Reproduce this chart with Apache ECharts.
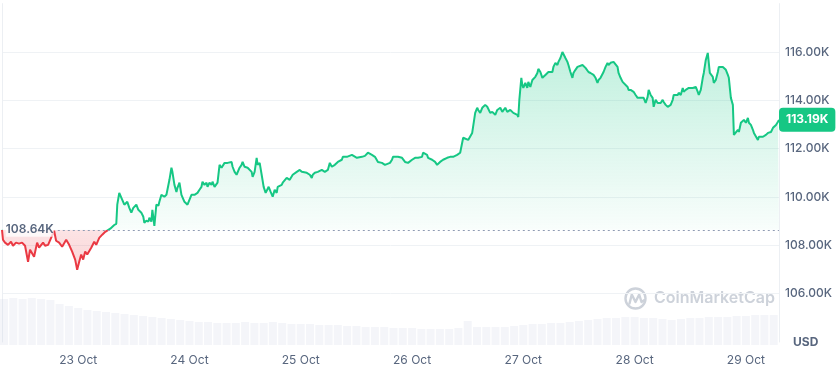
<!DOCTYPE html>
<html><head><meta charset="utf-8">
<script src="https://cdn.jsdelivr.net/npm/echarts@6/dist/echarts.min.js"></script>
<style>html,body{margin:0;padding:0;background:#fff}#c{width:840px;height:366px}</style>
</head><body><div id="c"></div>
<script>
// reference (open) and last price, USD
const refPrice = 108640;
const lastPrice = 113190;
// time of each price point: hours since 22 Oct 00:00
const hours = [
7.57,7.78,8.22,8.86,9.51,9.95,10.59,11.24,11.89,12.54,13.19,13.62,14.05,14.49,15.14,15.57,16.00,16.43,16.86,17.51,
18.16,18.81,19.24,19.89,20.54,21.41,22.05,22.70,23.35,23.78,24.22,24.65,25.08,25.51,25.95,26.81,27.46,27.89,28.54,29.19,
29.84,30.27,30.92,
31.35,31.78,32.22,32.43,32.86,33.51,33.95,34.59,35.03,35.46,
35.89,36.54,36.97,37.62,38.05,38.27,38.70,39.14,39.35,39.78,
40.00,40.43,40.86,41.30,41.51,41.95,42.59,43.03,43.68,44.11,
44.32,44.76,45.19,45.41,45.84,46.27,46.49,46.92,47.57,48.00,
48.43,48.65,49.08,49.73,50.16,50.59,50.81,51.24,51.68,51.89,
52.32,52.76,52.97,53.41,54.05,54.49,54.92,55.14,55.57,56.00,
56.22,56.65,57.08,57.30,57.73,58.16,58.38,58.81,59.24,59.46,
59.89,60.32,60.54,60.97,61.41,61.62,62.05,62.49,62.70,63.14,
63.57,64.00,64.43,64.65,65.08,65.51,65.95,66.16,66.38,66.81,
67.03,67.46,67.89,68.11,68.54,68.97,69.19,69.62,70.05,70.27,
70.70,71.14,71.78,72.22,72.43,73.30,73.51,73.95,74.38,74.59,
75.03,75.68,76.54,77.19,77.84,78.27,78.70,78.92,79.35,79.78,
80.00,80.43,80.86,81.08,81.51,81.95,82.16,83.03,83.24,84.11,
84.32,85.19,85.84,86.27,86.49,86.92,87.35,87.57,88.00,88.43,
88.65,89.08,89.51,89.73,90.16,90.59,91.24,91.68,91.89,92.32,
92.97,93.84,94.49,95.14,96.00,96.65,97.30,98.16,98.38,99.24,
99.46,99.89,100.32,100.97,101.41,101.62,102.05,102.70,103.57,104.22,
104.86,105.73,106.38,106.81,107.03,107.46,108.11,108.97,109.19,109.62,
110.05,110.27,110.70,111.14,111.35,111.78,112.22,112.43,112.86,113.30,
113.51,113.95,114.38,114.59,115.03,115.46,115.68,116.11,116.54,116.76,
117.19,117.84,118.70,118.92,119.14,119.57,119.78,120.00,120.43,120.86,
121.08,121.51,121.95,122.16,122.59,123.03,123.24,123.68,124.11,124.32,
124.76,125.19,125.41,125.84,126.27,126.49,126.92,127.35,127.57,128.00,
128.43,128.65,129.08,129.51,129.73,130.16,130.59,130.81,131.24,131.68,
131.89,132.76,132.97,133.41,133.84,134.05,134.49,134.92,135.14,135.57,
136.00,136.22,136.65,137.08,137.30,137.73,138.16,138.38,138.81,139.46,
139.89,140.32,140.54,140.97,141.41,141.62,142.49,142.70,143.14,143.57,
143.78,144.22,144.65,144.86,145.30,145.73,145.95,146.38,146.81,147.03,
147.46,147.89,148.11,148.54,148.97,149.19,149.62,150.05,150.27,150.70,
151.14,151.35,151.78,152.22,152.43,152.86,153.30,153.51,153.95,154.38,
154.59,155.03,155.68,156.54,157.19,157.62,157.84,158.27,158.70,158.92,
159.35,159.78,160.00,160.22,160.43,160.86,161.08,161.51,161.95,162.16,
162.59,163.03,163.24,163.68,164.11,164.32,164.76,165.19,165.41,165.84,
166.27,166.49,166.92,167.35,167.57,168.00,168.43,168.65,169.08,169.51,
169.73,170.16,170.59,170.81,171.24,171.68,171.89,172.32,172.76,172.97,
173.41,173.84,174.05,174.49,174.92,175.14
];
// price in thousands of USD
const prices = [
108.64,108.23,108.11,108.02,108.15,107.98,108.11,108.07,108.11,107.98,107.32,107.82,107.90,107.53,108.11,107.90,107.82,108.11,107.98,108.02,
108.31,108.60,108.19,108.11,107.94,108.23,108.02,107.74,107.41,106.99,107.32,107.62,107.41,107.74,107.62,107.90,108.15,108.02,108.31,108.44,
108.56,108.48,108.69,
108.77,108.84,108.89,109.68,110.17,109.88,109.68,109.80,109.55,109.35,
109.55,109.68,109.47,109.35,109.18,108.93,109.02,108.98,109.14,108.98,
109.47,108.80,109.68,109.64,109.80,110.09,110.01,110.09,110.71,111.21,
111.04,110.50,110.21,110.38,110.59,110.09,110.01,109.80,109.68,109.76,
110.09,110.01,110.09,110.17,110.30,110.42,110.63,110.50,110.59,110.42,
110.59,110.50,110.63,110.42,110.59,111.33,111.21,111.25,111.41,111.33,
111.41,111.33,111.45,111.25,111.04,110.92,111.00,111.21,111.33,111.45,
111.25,111.25,111.21,111.21,111.04,110.83,111.04,111.62,111.33,111.41,
110.92,110.42,110.17,110.09,110.42,110.21,110.01,110.09,110.30,110.17,
110.42,110.38,110.50,110.59,110.63,110.79,110.83,110.71,110.79,110.92,
111.00,111.04,111.12,111.04,111.12,111.00,111.04,110.92,110.79,110.92,
111.00,111.04,111.12,111.04,111.12,111.41,111.25,111.21,111.33,111.41,
111.45,111.45,111.54,111.66,111.62,111.66,111.74,111.74,111.66,111.62,
111.66,111.66,111.70,111.74,111.83,111.79,111.74,111.66,111.66,111.62,
111.45,111.41,111.41,111.33,111.33,111.41,111.41,111.54,111.66,111.66,
111.66,111.62,111.45,111.41,111.54,111.62,111.62,111.66,111.83,111.74,
111.62,111.62,111.54,111.45,111.33,111.33,111.45,111.54,111.62,111.66,
111.66,111.74,111.83,111.79,112.45,112.49,112.36,112.65,112.69,113.48,
113.69,113.60,113.48,113.69,113.73,113.81,113.73,113.81,113.48,113.52,
113.60,113.40,113.60,113.52,113.69,113.52,113.60,113.69,113.52,113.60,
113.60,113.48,113.40,113.31,114.02,114.93,114.64,114.51,114.72,114.51,
114.76,114.55,114.84,114.76,114.97,115.13,115.30,115.17,114.93,114.97,
115.05,114.97,115.17,115.13,115.17,115.38,115.55,115.46,115.59,115.75,
116.00,115.96,115.75,115.59,115.46,115.17,114.93,115.13,115.26,115.38,
115.46,115.46,115.38,115.34,115.26,115.17,115.13,115.05,115.05,114.93,
114.72,114.84,114.93,114.97,115.17,115.38,115.55,115.46,115.55,115.59,
115.55,115.38,115.13,114.93,114.76,114.76,114.55,114.43,114.43,114.51,
114.35,114.22,114.10,114.14,114.10,114.02,114.10,113.89,114.14,114.43,
114.22,114.10,113.73,114.02,113.89,113.93,113.89,114.02,113.93,113.81,
113.73,113.69,113.81,114.02,114.22,114.14,114.22,114.31,114.22,114.51,
114.35,114.43,114.51,114.51,114.55,114.35,114.22,114.43,114.93,115.13,
115.67,115.96,115.55,115.13,115.17,114.97,114.72,114.84,115.17,115.38,
115.46,115.38,115.46,115.26,115.05,114.93,114.10,113.81,112.57,112.65,
112.78,112.69,113.07,113.11,113.19,113.07,113.27,113.07,112.98,112.78,
112.65,112.57,112.36,112.49,112.57,112.49,112.57,112.57,112.65,112.57,
112.69,112.86,112.90,112.98,113.11,113.19
];
// volume bars (relative), one per 2 hours starting 22 Oct 08:00
const volHours = [8,10,12,14,16,18,20,22,24,26,28,30,32,34,36,38,40,42,44,46,48,50,52,54,56,58,60,62,64,66,68,70,72,74,76,78,80,82,84,86,88,90,92,94,96,98,100,102,104,106,108,110,112,114,116,118,120,122,124,126,128,130,132,134,136,138,140,142,144,146,148,150,152,154,156,158,160,162,164,166,168,170,172,174];
const volume = [
46,47,46,47,46,45,41,39,37,35,
34,33,32,31,30,29,28,27,26,25,
24,23,23,22,22,22,23,22,22,23,
22,21,21,21,20,20,20,19,19,18,
18,18,17,17,17,16,16,16,16,17,
24,18,18,18,18,19,20,21,21,22,
22,23,24,25,26,27,27,28,28,27,
27,26,25,26,27,27,28,28,28,29,
29,30,30,30
];
const dayTicks = [24,48,72,96,120,144,168];
const dayLabels = ['23 Oct','24 Oct','25 Oct','26 Oct','27 Oct','28 Oct','29 Oct'];

const n = Math.min(hours.length, prices.length);
const lineData = [];
for (let i = 0; i < n; i++) lineData.push([hours[i], prices[i] * 1000]);
const volData = volHours.map((h, i) => [h, volume[i]]);
const xMin = hours[0], xMax = hours[n - 1];
const pMax = Math.max(...prices.slice(0, n)) * 1000, pMin = Math.min(...prices.slice(0, n)) * 1000;
const f = (pMax - refPrice) / (pMax - pMin);

const GREEN = '#16c784', RED = '#ea3943', GRAY = '#58667e';
const chart = echarts.init(document.getElementById('c'), null, {renderer: 'canvas'});
chart.setOption({
  animation: false,
  textStyle: {fontFamily: 'Inter'},
  grid: [
    {left: 2, right: 61, top: 3.6, bottom: 23.6},
    {left: 2, right: 61, top: 290, bottom: 21}
  ],
  xAxis: [
    {type: 'value', gridIndex: 0, min: xMin, max: xMax,
     axisLine: {show: false}, axisTick: {show: false}, splitLine: {show: false},
     axisLabel: {customValues: dayTicks, color: GRAY, fontSize: 12, margin: 12,
       formatter: v => { const k = dayTicks.indexOf(Math.round(v)); return k >= 0 ? dayLabels[k] : ''; }}},
    {type: 'value', gridIndex: 1, min: xMin, max: xMax, show: false}
  ],
  yAxis: [
    {type: 'value', gridIndex: 0, position: 'right', min: 104000, max: 118000, interval: 2000,
     axisLine: {show: true, lineStyle: {color: '#eceff3'}}, axisTick: {show: false},
     splitLine: {show: true, showMinLine: false, showMaxLine: false, lineStyle: {color: '#eff2f5'}},
     axisLabel: {showMaxLabel: false, showMinLabel: true, margin: 6, color: GRAY, fontSize: 12, fontWeight: 500,
       formatter: v => v === 104000 ? '{u|USD}' : (v / 1000).toFixed(2) + 'K',
       rich: {u: {fontWeight: 700, color: GRAY, fontSize: 12, padding: [0, 0, 0, 8]}}}},
    {type: 'value', gridIndex: 0, position: 'left', min: 104000, max: 118000,
     axisLine: {show: true, lineStyle: {color: '#eceff3'}}, axisTick: {show: false},
     axisLabel: {show: false}, splitLine: {show: false}},
    {type: 'value', gridIndex: 1, min: 0, max: 55, show: false}
  ],
  visualMap: {type: 'piecewise', show: false, seriesIndex: 1, dimension: 1,
    pieces: [{gt: 90000, lte: refPrice, color: RED}, {gt: refPrice, lte: 130000, color: GREEN}],
    outOfRange: {color: GREEN}},
  series: [
    {type: 'bar', xAxisIndex: 1, yAxisIndex: 2, data: volData, barWidth: 8, silent: true, z: 1,
     itemStyle: {color: 'rgba(207,214,228,0.24)'}},
    {type: 'line', xAxisIndex: 0, yAxisIndex: 0, data: lineData, showSymbol: false, z: 3,
     lineStyle: {width: 2},
     areaStyle: {origin: refPrice, color: new echarts.graphic.LinearGradient(0, 0, 0, 1, [
       {offset: 0, color: 'rgba(22,199,132,0.38)'},
       {offset: f, color: 'rgba(22,199,132,0.04)'},
       {offset: f, color: 'rgba(234,57,67,0.20)'},
       {offset: 1, color: 'rgba(234,57,67,0.30)'}])},
     markLine: {symbol: ['none', 'none'], silent: true, animation: false,
       data: [
         [{coord: [19.6, refPrice], lineStyle: {color: '#8f9bb3', type: [2, 3], width: 1},
           label: {show: true, position: 'start', formatter: '108.64K', distance: 4, color: GRAY,
             fontWeight: 600, fontSize: 12, backgroundColor: 'rgba(255,255,255,0.75)', padding: [1, 0]}},
          {coord: [xMax, refPrice]}],
         [{coord: [xMax - 2, lastPrice], lineStyle: {color: 'rgba(0,0,0,0)', width: 0},
           label: {show: true, position: 'end', formatter: '113.19K', distance: 0, backgroundColor: GREEN,
             color: '#ffffff', fontWeight: 700, fontSize: 12, padding: [6, 7], borderRadius: 4}},
          {coord: [xMax, lastPrice]}]
       ]}}
  ],
  graphic: [
    {type: 'circle', silent: true, shape: {cx: 635.5, cy: 298.5, r: 10}, style: {fill: 'none', stroke: '#cdd2da', lineWidth: 2.4}},
    {type: 'polyline', silent: true, shape: {points: [[629.5, 303.5], [631.8, 294.5], [635.5, 302], [639.2, 294.5], [641.5, 302], [644.5, 300]]},
     style: {stroke: '#cdd2da', lineWidth: 2.4, fill: 'none', lineJoin: 'round', lineCap: 'round'}},
    {type: 'text', silent: true, x: 654, y: 298.5, style: {text: 'CoinMarketCap', fill: '#cdd2da', font: '600 16px Inter', verticalAlign: 'middle'}}
  ]
});
</script></body></html>
